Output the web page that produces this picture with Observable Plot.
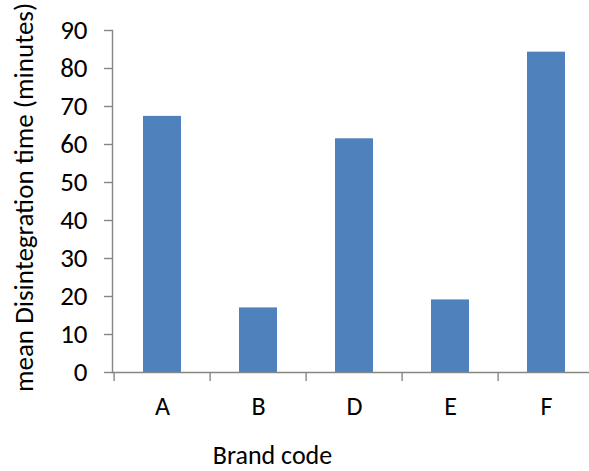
<!DOCTYPE html>
<html>
<head>
<meta charset="utf-8">
<script src="https://cdn.jsdelivr.net/npm/d3@7"></script>
<script src="https://cdn.jsdelivr.net/npm/@observablehq/plot@0.6"></script>
<style>
  html, body { margin: 0; padding: 0; background: #fff; overflow: hidden; }
  svg { display: block; max-width: none !important; }
</style>
</head>
<body>
<div id="chart"></div>
<script>
const brands = ["A", "B", "D", "E", "F"];
const meanTimes = [67.4, 17.0, 61.5, 19.1, 84.3];
const yTicks = [0, 10, 20, 30, 40, 50, 60, 70, 80, 90];
const xTitle = "Brand code";
const yTitle = "mean Disintegration time (minutes)";

const data = brands.map((b, i) => ({brand: b, time: meanTimes[i]}));

const W = 596, H = 471, ML = 112, MR = 0, MT = 30, MB = 99;
const step = (W - ML - MR) / brands.length;
const axisColor = "#868686";
const font = "Carlito, Lato, sans-serif";
const fs = 26;

const chart = Plot.plot({
  width: W,
  height: H,
  marginLeft: ML,
  marginRight: MR,
  marginTop: MT,
  marginBottom: MB,
  style: {fontFamily: font, background: "#fff", color: "#000"},
  x: {domain: brands, paddingInner: 0.6, paddingOuter: 0.3, label: null},
  y: {domain: [0, 90], label: null},
  marks: [
    Plot.barY(data, {x: "brand", y: "time", fill: "#4F81BD"}),
    Plot.ruleY([0], {stroke: axisColor, strokeWidth: 1.4}),
    Plot.frame({anchor: "left", stroke: axisColor, strokeWidth: 1.4}),
    Plot.axisY({ticks: yTicks, tickSize: 8, tickPadding: 17, fontSize: 27, stroke: axisColor, strokeWidth: 1.4, fill: "#000", label: null}),
    Plot.axisX({tickSize: 9, dx: -step / 2, tickFormat: () => "", stroke: axisColor, strokeWidth: 1.4}),
    Plot.axisX({tickSize: 0, tickPadding: 24, fontSize: fs, fill: "#000", label: null}),
    Plot.text([yTitle], {text: d => d, frameAnchor: "left", textAnchor: "middle", lineAnchor: "middle", rotate: -90, dx: -88, dy: -4, fontSize: 27, fill: "#000"}),
    Plot.text([xTitle], {text: d => d, frameAnchor: "bottom", textAnchor: "middle", lineAnchor: "middle", dy: 83, dx: -82, fontSize: fs, fill: "#000"})
  ]
});
document.getElementById("chart").appendChild(chart);
</script>
</body>
</html>
